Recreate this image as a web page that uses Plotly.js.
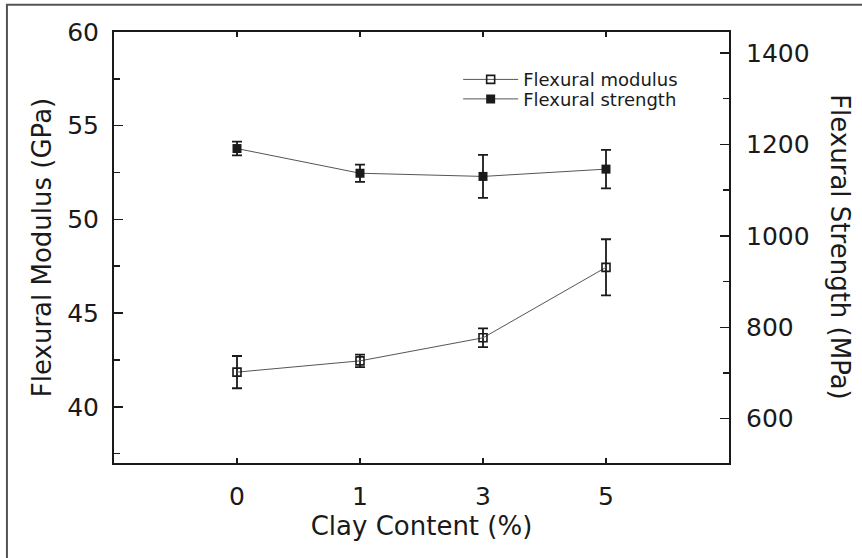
<!DOCTYPE html>
<html>
<head>
<meta charset="utf-8">
<script src="https://cdn.plot.ly/plotly-3.0.1.min.js"></script>
<style>html,body{margin:0;padding:0;background:#fff;}#chart{width:862px;height:558px;}</style>
</head>
<body>
<div id="chart"></div>
<script>
// Data
const clayContent = ['0', '1', '3', '5'];
const flexuralModulus = [41.85, 42.45, 43.68, 47.44];       // GPa (left axis)
const flexuralModulusErr = [0.86, 0.33, 0.50, 1.50];
const flexuralStrength = [1191, 1137, 1130, 1146];          // MPa (right axis)
const flexuralStrengthErr = [15, 19, 47, 42];

const FONT = 'DejaVu Sans, Liberation Sans, Arial, sans-serif';
const INK = '#1a1a1a';

const traces = [
  {
    x: clayContent, y: flexuralModulus, name: 'Flexural modulus',
    type: 'scatter', mode: 'lines+markers', yaxis: 'y', legend: 'legend',
    line: {color: '#555', width: 1},
    marker: {symbol: 'square-open', size: 8, color: INK, line: {width: 1.6, color: INK}},
    error_y: {type: 'data', array: flexuralModulusErr, color: INK, thickness: 1.8, width: 5}
  },
  {
    x: clayContent, y: flexuralStrength, name: 'Flexural strength',
    type: 'scatter', mode: 'lines+markers', yaxis: 'y2', legend: 'legend2',
    line: {color: '#555', width: 1},
    marker: {symbol: 'square', size: 9, color: INK},
    error_y: {type: 'data', array: flexuralStrengthErr, color: INK, thickness: 1.8, width: 5}
  }
];

const tickFont = {family: FONT, size: 25, color: INK};
const titleFont = {family: FONT, size: 26, color: INK};
const legendFont = {family: FONT, size: 18, color: INK};

const layout = {
  width: 862, height: 558,
  margin: {l: 114, r: 133.3, t: 32.3, b: 94.7, pad: 0},
  paper_bgcolor: '#fff', plot_bgcolor: '#fff',
  font: {family: FONT, color: INK},
  showlegend: true,
  xaxis: {
    type: 'category', range: [-1, 4],
    showline: true, linecolor: INK, linewidth: 2, mirror: 'ticks',
    ticks: 'inside', ticklen: 5, tickwidth: 1.5, tickcolor: INK,
    tickfont: tickFont, ticklabelstandoff: 10,
    showgrid: false, zeroline: false,
    title: {text: 'Clay Content (%)', font: titleFont, standoff: 6}
  },
  yaxis: {
    range: [37, 60], tick0: 40, dtick: 5,
    showline: true, linecolor: INK, linewidth: 2,
    ticks: 'inside', ticklen: 9, tickwidth: 1.5, tickcolor: INK,
    minor: {dtick: 2.5, tick0: 37.5, ticks: 'inside', ticklen: 6, tickwidth: 1.5, tickcolor: INK, showgrid: false},
    tickfont: tickFont, ticklabelstandoff: 8,
    showgrid: false, zeroline: false,
    title: {text: 'Flexural Modulus (GPa)', font: titleFont, standoff: 8}
  },
  yaxis2: {
    overlaying: 'y', side: 'right', anchor: 'x',
    range: [503, 1446], tick0: 0, dtick: 200,
    showline: true, linecolor: INK, linewidth: 2,
    ticks: 'inside', ticklen: 9, tickwidth: 1.5, tickcolor: INK,
    minor: {dtick: 100, tick0: 0, ticks: 'inside', ticklen: 6, tickwidth: 1.5, tickcolor: INK, showgrid: false},
    tickfont: tickFont, ticklabelstandoff: 10,
    showgrid: false, zeroline: false
  },
  legend: {
    x: 0.5596, y: (463.3 - 80) / 431, xanchor: 'left', yanchor: 'middle',
    bgcolor: 'rgba(0,0,0,0)', borderwidth: 0, font: legendFont, itemwidth: 55
  },
  legend2: {
    x: 0.5596, y: (463.3 - 99.5) / 431, xanchor: 'left', yanchor: 'middle',
    bgcolor: 'rgba(0,0,0,0)', borderwidth: 0, font: legendFont, itemwidth: 55
  },
  annotations: [{
    text: 'Flexural Strength (MPa)', xref: 'paper', yref: 'paper',
    x: (840 - 114) / 614.7, y: 0.5, xanchor: 'center', yanchor: 'middle',
    textangle: 90, showarrow: false, font: titleFont
  }],
  shapes: [{
    type: 'rect', xref: 'paper', yref: 'paper', layer: 'above',
    x0: (7 - 114) / 614.7, x1: 1.6, y0: -0.6, y1: (463.3 - 5) / 431,
    line: {color: '#555', width: 2}
  }]
};

Plotly.newPlot('chart', traces, layout, {staticPlot: true, displayModeBar: false});
</script>
</body>
</html>
